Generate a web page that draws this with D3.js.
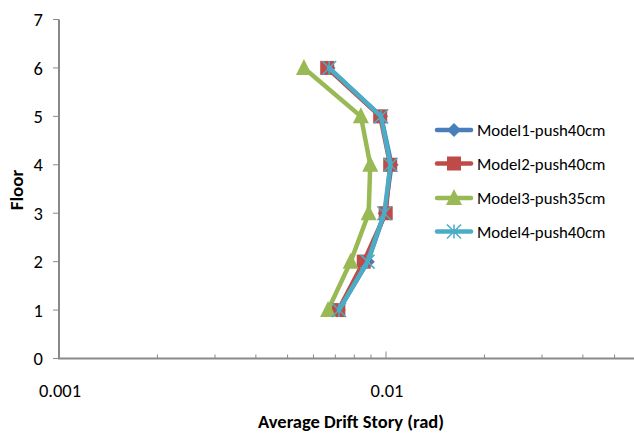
<!DOCTYPE html>
<html>
<head>
<meta charset="utf-8">
<script src="https://cdn.jsdelivr.net/npm/d3@7"></script>
<style>
  body { margin: 0; background: #fff; }
  svg { display: block; font-family: Carlito, Calibri, Lato, sans-serif; }
</style>
</head>
<body>
<svg id="chart" width="634" height="437"></svg>
<script>
// floors and average drift per model
const floors = [1, 2, 3, 4, 5, 6];
const model1 = [0.00717, 0.00880, 0.00990, 0.01040, 0.00966, 0.00667];
const model2 = [0.00715, 0.00855, 0.00998, 0.01030, 0.00960, 0.00661];
const model3 = [0.00665, 0.00780, 0.00885, 0.00895, 0.00838, 0.00561];
const model4 = [0.00718, 0.00878, 0.00988, 0.01032, 0.00966, 0.00670];

const seriesNames = ["Model1-push40cm", "Model2-push40cm", "Model3-push35cm", "Model4-push40cm"];
const seriesColors = ["#4a7ebb", "#be4b48", "#98b954", "#4bacc6"];
const seriesMarkers = ["diamond", "square", "triangle", "star"];
const seriesValues = [model1, model2, model3, model4];

const yTicks = [0, 1, 2, 3, 4, 5, 6, 7];
const xLabelTicks = [0.001, 0.01];

const svg = d3.select("#chart");

// log x axis, right end is cut off by the picture edge
const x = d3.scaleLog().domain([0.001, 0.1]).range([59, 713]);
const y = d3.scaleLinear().domain([0, 7]).range([358.5, 19.5]);

const axisColor = "#898989";

// y axis
svg.append("line")
    .attr("x1", x(0.001)).attr("x2", x(0.001))
    .attr("y1", y(7)).attr("y2", y(0))
    .attr("stroke", axisColor).attr("stroke-width", 2);

svg.selectAll(".ytick")
    .data(yTicks)
    .enter()
    .append("line")
    .attr("x1", x(0.001) - 6).attr("x2", x(0.001))
    .attr("y1", d => y(d)).attr("y2", d => y(d))
    .attr("stroke", axisColor).attr("stroke-width", 1);

svg.selectAll(".ylabel")
    .data(yTicks)
    .enter()
    .append("text")
    .attr("x", 43)
    .attr("y", d => y(d))
    .attr("dy", "0.36em")
    .attr("text-anchor", "end")
    .attr("font-size", "18.5px")
    .attr("fill", "#000")
    .text(d => d);

// x axis
svg.append("line")
    .attr("x1", x(0.001) - 1).attr("x2", 634)
    .attr("y1", y(0)).attr("y2", y(0))
    .attr("stroke", axisColor).attr("stroke-width", 2);

// minor + major ticks pointing up
const xTicks = x.ticks().filter(t => t > 0.001 && x(t) < 634);
svg.selectAll(".xtick")
    .data(xTicks)
    .enter()
    .append("line")
    .attr("x1", d => x(d)).attr("x2", d => x(d))
    .attr("y1", y(0))
    .attr("y2", d => y(0) - (xLabelTicks.includes(d) ? 7 : 4))
    .attr("stroke", axisColor).attr("stroke-width", 1);

svg.selectAll(".xlabel")
    .data(xLabelTicks)
    .enter()
    .append("text")
    .attr("x", d => x(d) + 1)
    .attr("y", 397)
    .attr("text-anchor", "middle")
    .attr("font-size", "18.5px")
    .attr("fill", "#000")
    .text(d => d);

// axis titles
svg.append("text")
    .attr("x", 351)
    .attr("y", 428)
    .attr("text-anchor", "middle")
    .attr("font-size", "18.5px")
    .attr("font-weight", "bold")
    .text("Average Drift Story (rad)");

svg.append("text")
    .attr("transform", "translate(23,190) rotate(-90)")
    .attr("text-anchor", "middle")
    .attr("font-size", "19px")
    .attr("font-weight", "bold")
    .text("Floor");

// marker drawing
function drawMarker(g, type, color, cx, cy) {
    if (type === "diamond") {
        g.append("path")
            .attr("d", `M${cx},${cy - 7}L${cx + 7},${cy}L${cx},${cy + 7}L${cx - 7},${cy}Z`)
            .attr("fill", color);
    } else if (type === "square") {
        g.append("rect")
            .attr("x", cx - 7).attr("y", cy - 7)
            .attr("width", 14).attr("height", 14)
            .attr("fill", color);
    } else if (type === "triangle") {
        g.append("path")
            .attr("d", `M${cx},${cy - 9}L${cx + 8},${cy + 7}L${cx - 8},${cy + 7}Z`)
            .attr("fill", color);
    } else if (type === "star") {
        const r = 7;
        g.append("path")
            .attr("d", `M${cx - r},${cy - r}L${cx + r},${cy + r}M${cx - r},${cy + r}L${cx + r},${cy - r}M${cx},${cy - r}L${cx},${cy + r}`)
            .attr("stroke", color).attr("stroke-width", 1.5).attr("fill", "none");
    }
}

const line = d3.line()
    .x(d => x(d.v))
    .y(d => y(d.f));

seriesValues.forEach((vals, i) => {
    const pts = vals.map((v, j) => ({ v: v, f: floors[j] }));
    const g = svg.append("g");
    g.append("path")
        .datum(pts)
        .attr("d", line)
        .attr("fill", "none")
        .attr("stroke", seriesColors[i])
        .attr("stroke-width", 4.5)
        .attr("stroke-linejoin", "round")
        .attr("stroke-linecap", "round");
    pts.forEach(p => drawMarker(g, seriesMarkers[i], seriesColors[i], x(p.v), y(p.f)));
});

// legend
const legendY = [130, 163.5, 198, 231.5];
seriesNames.forEach((name, i) => {
    const g = svg.append("g");
    g.append("line")
        .attr("x1", 437).attr("x2", 471)
        .attr("y1", legendY[i]).attr("y2", legendY[i])
        .attr("stroke", seriesColors[i])
        .attr("stroke-width", 4.5)
        .attr("stroke-linecap", "round");
    drawMarker(g, seriesMarkers[i], seriesColors[i], 454, legendY[i]);
    g.append("text")
        .attr("x", 477)
        .attr("y", legendY[i])
        .attr("dy", "0.36em")
        .attr("font-size", "16.8px")
        .attr("fill", "#000")
        .text(name);
});
</script>
</body>
</html>
